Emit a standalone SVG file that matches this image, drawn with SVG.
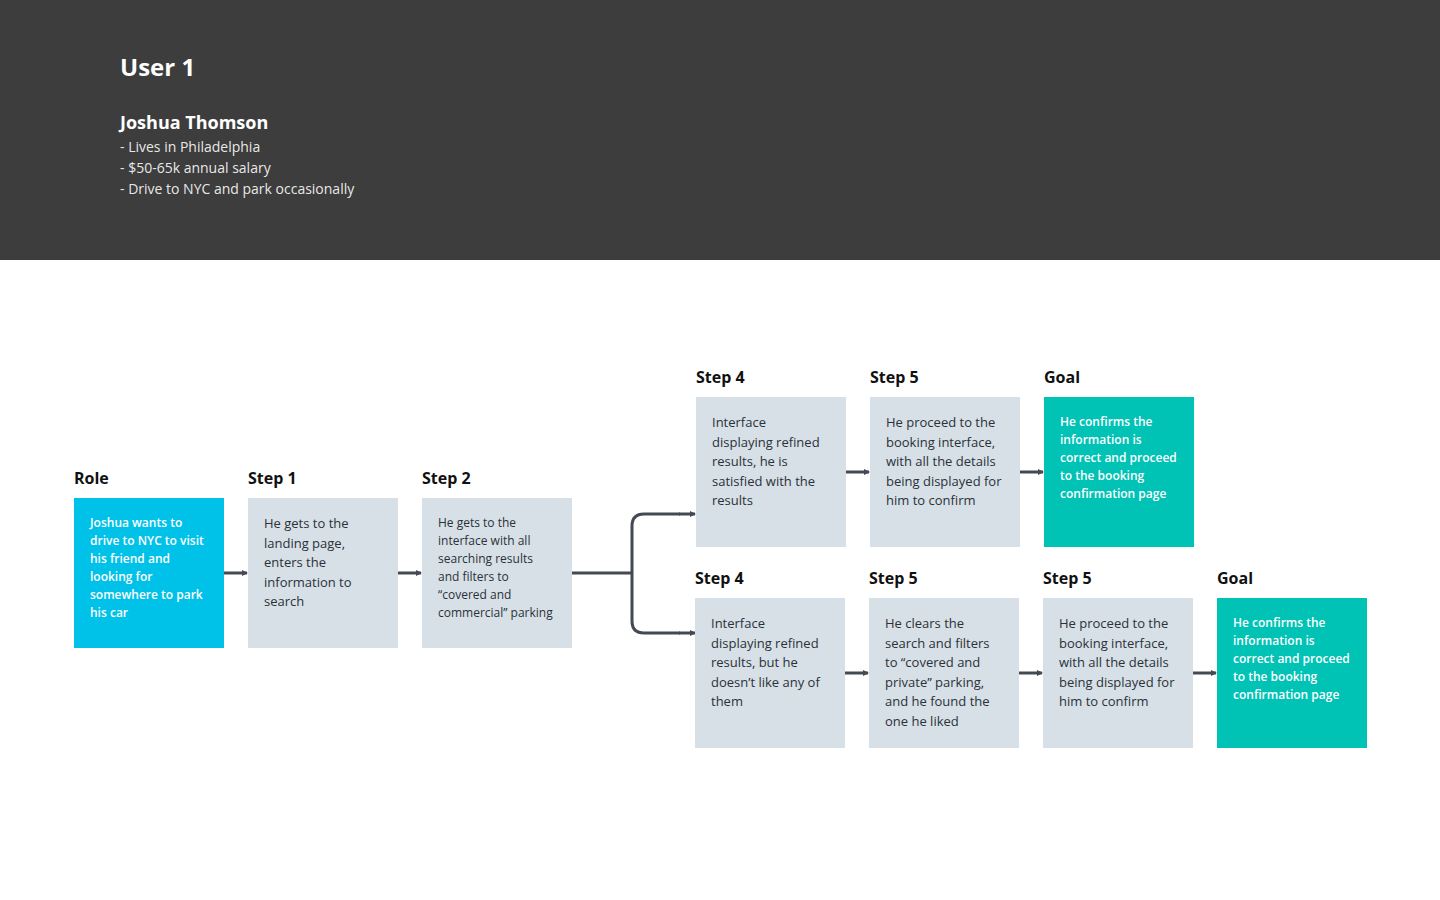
<svg xmlns="http://www.w3.org/2000/svg" width="1440" height="900" viewBox="0 0 1440 900">
<defs>
<style>
.hdr{font-family:"Open Sans","Liberation Sans",sans-serif;fill:#ffffff}
.lbl{font-family:"Open Sans","Liberation Sans",sans-serif;font-size:16px;font-weight:700;fill:#111111}
.card{fill:#d7e0e7}
.role{fill:#00c1e8}
.goal{fill:#00c2b5}
.t{font-family:"Open Sans","Liberation Sans",sans-serif;font-size:13px;fill:#2b3138}
.ts{font-family:"Open Sans","Liberation Sans",sans-serif;font-size:12px;fill:#2b3138}
.tw{font-family:"Open Sans","Liberation Sans",sans-serif;font-size:12px;font-weight:600;fill:#ffffff}
.c{fill:none;stroke:#434a54;stroke-width:3}
</style>
<marker id="ah" markerWidth="6" markerHeight="6" refX="5" refY="3" orient="auto" markerUnits="userSpaceOnUse">
<path d="M0,0 L6,3 L0,6 Z" fill="#434a54"/>
</marker>
</defs>
<rect x="0" y="0" width="1440" height="260" fill="#3d3d3d"/>
<rect x="0" y="260" width="1440" height="640" fill="#ffffff"/>
<g id="header">
<text class="hdr" x="120" y="76" font-size="24" font-weight="700">User 1</text>
<text class="hdr" x="120" y="129" font-size="18" font-weight="700">Joshua Thomson</text>
<text class="hdr" x="120" y="152" font-size="14" fill-opacity="0.9">- Lives in Philadelphia</text>
<text class="hdr" x="120" y="173" font-size="14" fill-opacity="0.9">- $50-65k annual salary</text>
<text class="hdr" x="120" y="194" font-size="14" fill-opacity="0.9">- Drive to NYC and park occasionally</text>
</g>
<g id="connectors">
<line class="c" x1="224" y1="573" x2="247" y2="573" marker-end="url(#ah)"/>
<line class="c" x1="398" y1="573" x2="421" y2="573" marker-end="url(#ah)"/>
<line class="c" x1="572" y1="573" x2="632" y2="573"/>
<path class="c" d="M680,514 L644,514 Q632,514 632,526 L632,621 Q632,633 644,633 L680,633"/>
<line class="c" x1="679" y1="514" x2="695" y2="514" marker-end="url(#ah)"/>
<line class="c" x1="679" y1="633" x2="695" y2="633" marker-end="url(#ah)"/>
<line class="c" x1="846" y1="472" x2="869" y2="472" marker-end="url(#ah)"/>
<line class="c" x1="1020" y1="472" x2="1043" y2="472" marker-end="url(#ah)"/>
<line class="c" x1="845" y1="673" x2="868" y2="673" marker-end="url(#ah)"/>
<line class="c" x1="1019" y1="673" x2="1042" y2="673" marker-end="url(#ah)"/>
<line class="c" x1="1193" y1="673" x2="1216" y2="673" marker-end="url(#ah)"/>
</g>
<g id="role">
<text class="lbl" x="74" y="484">Role</text>
<rect class="role" x="74" y="498" width="150" height="150"/>
<text class="tw" x="90" y="527"><tspan x="90">Joshua wants to</tspan><tspan x="90" dy="18">drive to NYC to visit</tspan><tspan x="90" dy="18">his friend and</tspan><tspan x="90" dy="18">looking for</tspan><tspan x="90" dy="18">somewhere to park</tspan><tspan x="90" dy="18">his car</tspan></text>
</g>
<g id="step1">
<text class="lbl" x="248" y="484">Step 1</text>
<rect class="card" x="248" y="498" width="150" height="150"/>
<text class="t" x="264" y="528"><tspan x="264">He gets to the</tspan><tspan x="264" dy="19.5">landing page,</tspan><tspan x="264" dy="19.5">enters the</tspan><tspan x="264" dy="19.5">information to</tspan><tspan x="264" dy="19.5">search</tspan></text>
</g>
<g id="step2">
<text class="lbl" x="422" y="484">Step 2</text>
<rect class="card" x="422" y="498" width="150" height="150"/>
<text class="ts" x="438" y="527"><tspan x="438">He gets to the</tspan><tspan x="438" dy="18">interface with all</tspan><tspan x="438" dy="18">searching results</tspan><tspan x="438" dy="18">and filters to</tspan><tspan x="438" dy="18">“covered and</tspan><tspan x="438" dy="18">commercial” parking</tspan></text>
</g>
<g id="step4a">
<text class="lbl" x="696" y="383">Step 4</text>
<rect class="card" x="696" y="397" width="150" height="150"/>
<text class="t" x="712" y="427"><tspan x="712">Interface</tspan><tspan x="712" dy="19.5">displaying refined</tspan><tspan x="712" dy="19.5">results, he is</tspan><tspan x="712" dy="19.5">satisfied with the</tspan><tspan x="712" dy="19.5">results</tspan></text>
</g>
<g id="step5a">
<text class="lbl" x="870" y="383">Step 5</text>
<rect class="card" x="870" y="397" width="150" height="150"/>
<text class="t" x="886" y="427"><tspan x="886">He proceed to the</tspan><tspan x="886" dy="19.5">booking interface,</tspan><tspan x="886" dy="19.5">with all the details</tspan><tspan x="886" dy="19.5">being displayed for</tspan><tspan x="886" dy="19.5">him to confirm</tspan></text>
</g>
<g id="goala">
<text class="lbl" x="1044" y="383">Goal</text>
<rect class="goal" x="1044" y="397" width="150" height="150"/>
<text class="tw" x="1060" y="426"><tspan x="1060">He confirms the</tspan><tspan x="1060" dy="18">information is</tspan><tspan x="1060" dy="18">correct and proceed</tspan><tspan x="1060" dy="18">to the booking</tspan><tspan x="1060" dy="18">confirmation page</tspan></text>
</g>
<g id="step4b">
<text class="lbl" x="695" y="584">Step 4</text>
<rect class="card" x="695" y="598" width="150" height="150"/>
<text class="t" x="711" y="628"><tspan x="711">Interface</tspan><tspan x="711" dy="19.5">displaying refined</tspan><tspan x="711" dy="19.5">results, but he</tspan><tspan x="711" dy="19.5">doesn’t like any of</tspan><tspan x="711" dy="19.5">them</tspan></text>
</g>
<g id="step5b">
<text class="lbl" x="869" y="584">Step 5</text>
<rect class="card" x="869" y="598" width="150" height="150"/>
<text class="t" x="885" y="628"><tspan x="885">He clears the</tspan><tspan x="885" dy="19.5">search and filters</tspan><tspan x="885" dy="19.5">to “covered and</tspan><tspan x="885" dy="19.5">private” parking,</tspan><tspan x="885" dy="19.5">and he found the</tspan><tspan x="885" dy="19.5">one he liked</tspan></text>
</g>
<g id="step5c">
<text class="lbl" x="1043" y="584">Step 5</text>
<rect class="card" x="1043" y="598" width="150" height="150"/>
<text class="t" x="1059" y="628"><tspan x="1059">He proceed to the</tspan><tspan x="1059" dy="19.5">booking interface,</tspan><tspan x="1059" dy="19.5">with all the details</tspan><tspan x="1059" dy="19.5">being displayed for</tspan><tspan x="1059" dy="19.5">him to confirm</tspan></text>
</g>
<g id="goalb">
<text class="lbl" x="1217" y="584">Goal</text>
<rect class="goal" x="1217" y="598" width="150" height="150"/>
<text class="tw" x="1233" y="627"><tspan x="1233">He confirms the</tspan><tspan x="1233" dy="18">information is</tspan><tspan x="1233" dy="18">correct and proceed</tspan><tspan x="1233" dy="18">to the booking</tspan><tspan x="1233" dy="18">confirmation page</tspan></text>
</g>
</svg>
